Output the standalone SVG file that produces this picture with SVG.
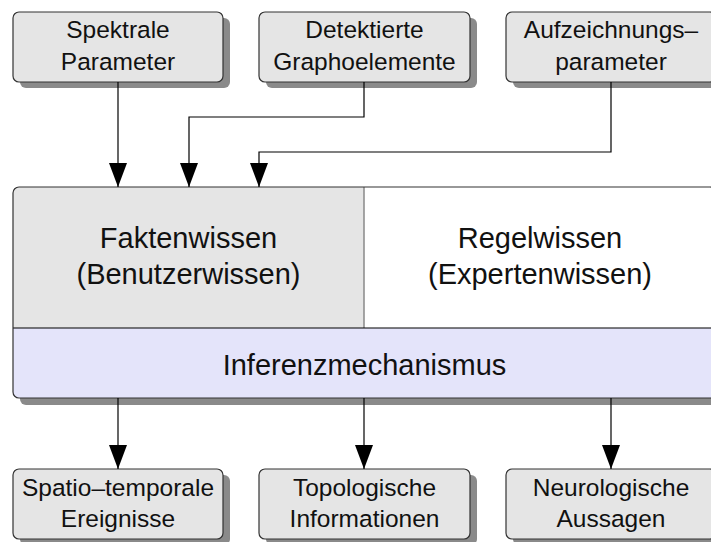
<svg xmlns="http://www.w3.org/2000/svg" width="711" height="542" viewBox="0 0 711 542">
<defs>
<marker id="ah" markerUnits="userSpaceOnUse" markerWidth="24" markerHeight="18" viewBox="0 0 24 18" refX="24" refY="9" orient="auto">
<path d="M0,0 L24,9 L0,18 Z" fill="#000"/>
</marker>
</defs>
<style>
.shadow{fill:#8a8a8a}
.box{fill:#e5e5e5;stroke:#333;stroke-width:1.2}
.t{font-family:"Liberation Sans",Arial,Helvetica,sans-serif;fill:#111;text-anchor:middle}
.s{font-size:24.5px}
.l{font-size:29px}
.con{fill:none;stroke:#000;stroke-width:1.2;marker-end:url(#ah)}
</style>
<rect width="711" height="542" fill="#fff"/>

<g id="spektrale">
<rect class="shadow" x="20" y="18" width="210" height="70" rx="6"/>
<rect class="box" x="13" y="12" width="210" height="70" rx="6"/>
<text class="t s" x="118" y="38">Spektrale</text>
<text class="t s" x="118" y="70">Parameter</text>
</g>
<g id="grapho">
<rect class="shadow" x="266" y="18" width="211" height="70" rx="6"/>
<rect class="box" x="259" y="12" width="211" height="70" rx="6"/>
<text class="t s" x="364.5" y="38">Detektierte</text>
<text class="t s" x="364.5" y="70">Graphoelemente</text>
</g>
<g id="aufzeichnung">
<rect class="shadow" x="513" y="18" width="210" height="70" rx="6"/>
<rect class="box" x="506" y="12" width="210" height="70" rx="6"/>
<text class="t s" x="611" y="38">Aufzeichnungs–</text>
<text class="t s" x="611" y="70">parameter</text>
</g>

<g id="wissensbasis">
<rect class="shadow" x="20" y="194" width="703" height="211" rx="6"/>
<rect x="13" y="187" width="703" height="211" rx="6" fill="#fff"/>
<path d="M19,187 H364 V328 H13 V193 Q13,187 19,187 Z" fill="#e5e5e5"/>
<path d="M13,328 H716 V392 Q716,398 710,398 H19 Q13,398 13,392 Z" fill="#e4e4fa"/>
<line x1="364" y1="187" x2="364" y2="328" stroke="#888" stroke-width="1.5"/>
<line x1="13" y1="328" x2="716" y2="328" stroke="#000" stroke-width="1.2"/>
<rect x="13" y="187" width="703" height="211" rx="6" fill="none" stroke="#333" stroke-width="1.2"/>
<text class="t l" x="188.5" y="248">Faktenwissen</text>
<text class="t l" x="188.5" y="284">(Benutzerwissen)</text>
<text class="t l" x="540" y="248">Regelwissen</text>
<text class="t l" x="540" y="284">(Expertenwissen)</text>
<text class="t l" x="364.5" y="375">Inferenzmechanismus</text>
</g>

<g id="spatio">
<rect class="shadow" x="20" y="475" width="210" height="70" rx="6"/>
<rect class="box" x="13" y="469" width="210" height="70" rx="6"/>
<text class="t s" x="118" y="496">Spatio–temporale</text>
<text class="t s" x="118" y="527">Ereignisse</text>
</g>
<g id="topologisch">
<rect class="shadow" x="266" y="475" width="211" height="70" rx="6"/>
<rect class="box" x="259" y="469" width="211" height="70" rx="6"/>
<text class="t s" x="364.5" y="496">Topologische</text>
<text class="t s" x="364.5" y="527">Informationen</text>
</g>
<g id="neurologisch">
<rect class="shadow" x="513" y="475" width="210" height="70" rx="6"/>
<rect class="box" x="506" y="469" width="210" height="70" rx="6"/>
<text class="t s" x="611" y="496">Neurologische</text>
<text class="t s" x="611" y="527">Aussagen</text>
</g>

<g id="connectors">
<path class="con" d="M118,82 V187"/>
<path class="con" d="M364,82 V117 H189 V187"/>
<path class="con" d="M611,82 V152 H259 V187"/>
<path class="con" d="M118,398 V469"/>
<path class="con" d="M364,398 V469"/>
<path class="con" d="M611,398 V469"/>
</g>
</svg>
